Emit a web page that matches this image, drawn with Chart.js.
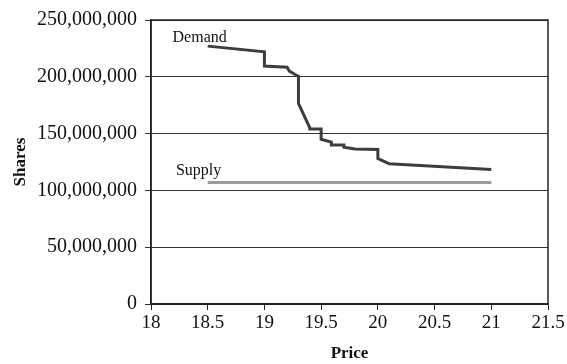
<!DOCTYPE html>
<html>
<head>
<meta charset="utf-8">
<script src="https://cdn.jsdelivr.net/npm/chart.js@4.4.0/dist/chart.umd.min.js"></script>
<style>
  html, body { margin: 0; padding: 0; background: #fff; }
  #wrap { width: 567px; height: 364px; }
</style>
</head>
<body>
<div id="wrap"><canvas id="myChart"></canvas></div>
<script>
// demand schedule (price, shares)
var demandPrice  = [18.5, 19.0, 19.0, 19.2, 19.22, 19.27, 19.3, 19.3, 19.4, 19.4, 19.5, 19.5, 19.59, 19.59, 19.7, 19.7, 19.8, 20.0, 20.0, 20.1, 21.0];
var demandShares = [227e6, 222e6, 209.5e6, 208.5e6, 205e6, 202e6, 200.5e6, 176.5e6, 155e6, 154e6, 154e6, 145e6, 142.5e6, 140e6, 140e6, 138e6, 136.5e6, 136e6, 128e6, 123.5e6, 118.5e6];

var supplyPrice  = [18.5, 21.0];
var supplyShares = [107e6, 107e6];

var seriesLabels = ['Demand', 'Supply'];
var labelAt = [[18.19, 235e6], [18.22, 118e6]];

var xTicks = [18, 18.5, 19, 19.5, 20, 20.5, 21, 21.5];
var yTicks = [0, 50e6, 100e6, 150e6, 200e6, 250e6];

function pts(xs, ys) {
    return xs.map(function (x, i) { return { x: x, y: ys[i] }; });
}

var serif = "'Liberation Serif', 'Times New Roman', serif";

const frame = {
    id: 'frame',
    afterDraw: function (chart) {
        var ctx = chart.ctx, a = chart.chartArea;
        ctx.save();
        ctx.strokeStyle = '#222';
        ctx.lineWidth = 1.5;
        ctx.strokeRect(a.left, a.top, a.right - a.left, a.bottom - a.top);
        // series names
        ctx.fillStyle = '#111';
        ctx.font = '16px ' + serif;
        ctx.textBaseline = 'middle';
        ctx.textAlign = 'left';
        var xs = chart.scales.x, ys = chart.scales.y;
        seriesLabels.forEach(function (t, i) {
            ctx.fillText(t, xs.getPixelForValue(labelAt[i][0]), ys.getPixelForValue(labelAt[i][1]) + 1);
        });
        ctx.restore();
    }
};

new Chart(document.getElementById('myChart'), {
    type: 'scatter',
    data: {
        datasets: [
            {
                label: seriesLabels[0],
                data: pts(demandPrice, demandShares),
                showLine: true,
                borderColor: '#3d3d3d',
                borderWidth: 3,
                pointRadius: 0,
                tension: 0
            },
            {
                label: seriesLabels[1],
                data: pts(supplyPrice, supplyShares),
                showLine: true,
                borderColor: '#9a9a9a',
                borderWidth: 3,
                pointRadius: 0,
                tension: 0
            }
        ]
    },
    options: {
        responsive: true,
        maintainAspectRatio: false,
        animation: false,
        layout: { padding: { top: 20, right: 19, left: 10, bottom: 0 } },
        plugins: {
            legend: { display: false },
            tooltip: { enabled: false }
        },
        scales: {
            x: {
                type: 'linear',
                min: 18, max: 21.5,
                afterBuildTicks: function (s) { s.ticks = xTicks.map(function (v) { return { value: v }; }); },
                afterFit: function (s) { s.height = 60; },
                grid: { drawOnChartArea: false, drawTicks: true, tickLength: 6, color: '#222', lineWidth: 1 },
                border: { color: '#222', width: 1.5 },
                ticks: {
                    color: '#111',
                    padding: 2,
                    maxRotation: 0,
                    font: { family: serif, size: 19 },
                    callback: function (v) { return String(v); }
                },
                title: {
                    display: true,
                    text: 'Price',
                    color: '#111',
                    padding: { top: 0, bottom: 0 },
                    font: { family: serif, size: 17, weight: 'bold' }
                }
            },
            y: {
                min: 0, max: 250e6,
                afterBuildTicks: function (s) { s.ticks = yTicks.map(function (v) { return { value: v }; }); },
                afterFit: function (s) { s.width = 141; },
                grid: { drawOnChartArea: true, drawTicks: true, tickLength: 6, color: '#333', lineWidth: 1 },
                border: { color: '#222', width: 1.5 },
                ticks: {
                    color: '#111',
                    padding: 8,
                    font: { family: serif, size: 20 },
                    callback: function (v) { return v.toLocaleString('en-US'); }
                },
                title: {
                    display: true,
                    text: 'Shares',
                    color: '#111',
                    padding: { top: 0, bottom: 2 },
                    font: { family: serif, size: 17, weight: 'bold' }
                }
            }
        }
    },
    plugins: [frame]
});
</script>
</body>
</html>
